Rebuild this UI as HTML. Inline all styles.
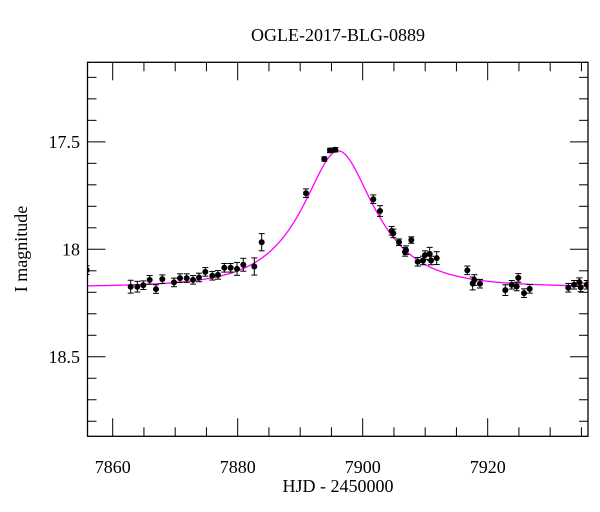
<!DOCTYPE html>
<html><head><meta charset="utf-8"><style>
html,body{margin:0;padding:0;background:#fff;}
svg{display:block;font-family:"Liberation Serif","DejaVu Serif",serif;}
</style></head><body>
<svg id="chart" width="600" height="512" viewBox="0 0 600 512">
<text x="338" y="41" text-anchor="middle" font-size="18">OGLE-2017-BLG-0889</text>
<text x="338" y="492" text-anchor="middle" font-size="18">HJD - 2450000</text>
<text transform="translate(27,249) rotate(-90)" text-anchor="middle" font-size="18">I magnitude</text>
<g id="axes"></g>
<g id="marks" clip-path="url(#clip)"></g>
<defs><clipPath id="clip"><rect x="87.5" y="62.3" width="500.5" height="374"/></clipPath></defs>
<rect x="87.5" y="62.3" width="500.5" height="374" fill="none" stroke="#000" stroke-width="1.3"/>
</svg>
<script>
const times=[7855.84,7862.88,7863.94,7864.90,7865.92,7866.93,7867.94,7869.81,7870.77,7871.84,7872.85,7873.81,7874.82,7875.94,7876.85,7877.86,7878.88,7879.89,7880.90,7882.66,7883.84,7890.93,7893.86,7894.77,7895.62,7901.70,7902.77,7904.64,7904.90,7905.81,7906.77,7906.93,7907.78,7908.80,7909.65,7909.97,7910.72,7910.93,7911.84,7916.74,7917.60,7917.86,7918.77,7922.82,7923.84,7924.64,7924.90,7925.81,7926.72,7932.90,7933.81,7934.66,7934.88,7935.84];
const mags=[18.097,18.174,18.174,18.167,18.142,18.185,18.139,18.154,18.134,18.134,18.142,18.131,18.105,18.123,18.119,18.086,18.086,18.091,18.072,18.080,17.967,17.739,17.580,17.540,17.537,17.767,17.822,17.914,17.926,17.967,18.012,18.004,17.957,18.058,18.052,18.027,18.021,18.052,18.041,18.098,18.159,18.143,18.160,18.190,18.165,18.173,18.133,18.204,18.184,18.179,18.165,18.153,18.177,18.165];
const errs=[0.02,0.03,0.025,0.02,0.02,0.02,0.02,0.02,0.02,0.02,0.02,0.02,0.02,0.02,0.02,0.02,0.02,0.03,0.03,0.04,0.04,0.02,0.01,0.01,0.01,0.02,0.025,0.02,0.02,0.015,0.02,0.02,0.015,0.02,0.02,0.02,0.03,0.02,0.03,0.02,0.03,0.025,0.02,0.025,0.02,0.02,0.02,0.02,0.02,0.02,0.02,0.02,0.02,0.02];
const xTicks=[7860,7880,7900,7920];
const yTicks=[17.5,18,18.5];
const model={t0:7896.1,tE:10.2,u0:0.515,fs:0.7,base:18.175};
const X0=87.5,X1=588,Y0=62.3,Y1=436.3;
const xMin=7855.97,xMax=7936.05,yMin=17.13,yMax=18.87;
const sx=t=>X0+(t-xMin)/(xMax-xMin)*(X1-X0);
const sy=m=>Y0+(m-yMin)/(yMax-yMin)*(Y1-Y0);
const NS='http://www.w3.org/2000/svg';
function mk(tag,attrs,parent){const e=document.createElementNS(NS,tag);for(const k in attrs)e.setAttribute(k,attrs[k]);parent.appendChild(e);return e;}
const axes=document.getElementById('axes'),marks=document.getElementById('marks');
// x ticks
for(let t=7860;t<=7935;t+=5){
 const major=xTicks.includes(t);const L=major?18:9;const x=sx(t);
 const a=mk('line',{x1:x,x2:x,y1:Y1,y2:Y1-L,stroke:'#000','stroke-width':1},axes);
 
 
 const b=mk('line',{x1:x,x2:x,y1:Y0,y2:Y0+L,stroke:'#000','stroke-width':1},axes);
 
 
}
xTicks.forEach(t=>{const e=mk('text',{x:sx(t),y:473,'text-anchor':'middle','font-size':18},axes);e.textContent=t;
 
 });
// y ticks
for(let i=0;i<=17;i++){
 const m=17.2+i*0.1;if(m>yMax)break;const major=yTicks.some(v=>Math.abs(v-m)<1e-6);const L=major?18:9;const y=sy(m);
 const a=mk('line',{x1:X0,x2:X0+L,y1:y,y2:y,stroke:'#000','stroke-width':1},axes);
 
 
 const b=mk('line',{x1:X1,x2:X1-L,y1:y,y2:y,stroke:'#000','stroke-width':1},axes);
 
 
}
yTicks.forEach(m=>{const e=mk('text',{x:80,y:sy(m)+6,'text-anchor':'end','font-size':18},axes);e.textContent=m;
 
 });
// model curve
let d='';
for(let t=xMin;t<=xMax;t+=0.1){
 const tau=(t-model.t0)/model.tE;const u=Math.sqrt(model.u0*model.u0+tau*tau);
 const A=(u*u+2)/(u*Math.sqrt(u*u+4));const m=model.base-2.5*Math.log10(1+model.fs*(A-1));
 d+=(d?'L':'M')+sx(t).toFixed(2)+','+sy(m).toFixed(2);
}
const curve=mk('path',{d:d,fill:'none',stroke:'#ff00ff','stroke-width':1.3},marks);


// data points
times.forEach((t,i)=>{
 const x=sx(t),y=sy(mags[i]),y1=sy(mags[i]-errs[i]),y2=sy(mags[i]+errs[i]);
 const g=mk('g',{},marks);
 
 
 mk('line',{x1:x,x2:x,y1:y1,y2:y2,stroke:'#000','stroke-width':1},g);
 mk('line',{x1:x-3,x2:x+3,y1:y1,y2:y1,stroke:'#000','stroke-width':1},g);
 mk('line',{x1:x-3,x2:x+3,y1:y2,y2:y2,stroke:'#000','stroke-width':1},g);
 mk('circle',{cx:x,cy:y,r:3,fill:'#000'},g);
});
</script>
</body></html>
